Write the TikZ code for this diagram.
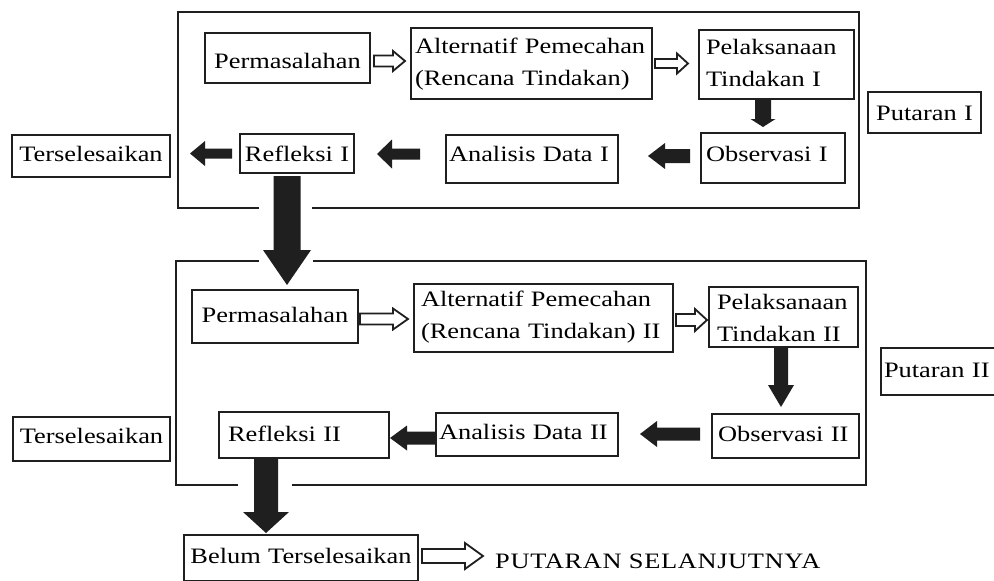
\documentclass[tikz,border=0pt]{standalone}
\usepackage{fontspec}
\setmainfont{Liberation Serif}[FakeStretch=1.2]
\usetikzlibrary{calc}
\definecolor{ink}{gray}{0.12}
\tikzset{
  box/.style={draw=ink, line width=2pt, anchor=north west, inner xsep=0pt, inner ysep=0pt,
              font=\fontsize{22}{32}\selectfont},
  frame/.style={draw=ink, line width=2pt},
  darr/.style={fill=ink},
  harr/.style={draw=ink, fill=white, line width=1.8pt, line join=miter},
}
% box: name, x, y, width, text width, text height, text depth, align, text
\newcommand\bx[9]{\node[box, minimum width=#4pt, text width=#5pt, text height=#6pt, text depth=#7pt, align=#8] (#1) at (#2,#3) {#9};}
% horizontal block arrow: style, from, to, shaft half, head half, head length
\newcommand\HArr[6]{\path[#1] let \p1=(#2), \p2=(#3), \n1={ifthenelse(\x2>\x1,1,-1)} in
  (\x1,{\y1+#4pt}) -- ({\x2-\n1*#6pt},{\y1+#4pt}) -- ({\x2-\n1*#6pt},{\y1+#5pt}) -- (\x2,\y1)
  -- ({\x2-\n1*#6pt},{\y1-#5pt}) -- ({\x2-\n1*#6pt},{\y1-#4pt}) -- (\x1,{\y1-#4pt}) -- cycle;}
% vertical (downward) block arrow
\newcommand\VArr[6]{\path[#1] let \p1=(#2), \p2=(#3) in
  ({\x1-#4pt},\y1) -- ({\x1-#4pt},{\y2+#6pt}) -- ({\x1-#5pt},{\y2+#6pt}) -- (\x1,\y2)
  -- ({\x1+#5pt},{\y2+#6pt}) -- ({\x1+#4pt},{\y2+#6pt}) -- ({\x1+#4pt},\y1) -- cycle;}
\begin{document}
\begin{tikzpicture}[x=1pt,y=-1pt]
\fill[white] (0,0) rectangle (994,581);
\useasboundingbox (0,0) rectangle (994,581);

% outer frames
\draw[frame] (259,208) -- (178,208) -- (178,12) -- (859,12) -- (859,208) -- (312,208);
\draw[frame] (259,261) -- (176,261) -- (176,485) -- (238,485);
\draw[frame] (292,485) -- (866,485) -- (866,261) -- (313,261);

% Putaran I
\bx{perm1}{204}{32}{165}{155}{35}{15}{center}{Permasalahan}
\bx{alt1}{410}{27}{241}{233}{25}{46}{left}{Alternatif Pemecahan\\(Rencana Tindakan)}
\bx{pel1}{698}{29}{155}{141}{24}{45}{left}{Pelaksanaan\\Tindakan I}
\bx{obs1}{700}{132}{144}{134}{28}{22}{left}{Observasi I}
\bx{put1}{867}{91}{113}{107}{28}{13}{center}{Putaran I}
\bx{ana1}{445}{134}{172}{166}{26}{22}{left}{Analisis Data I}
\bx{ref1}{239}{133}{114}{110}{27}{12}{center}{Refleksi I}
\bx{ter1}{11}{134}{158}{154}{26}{16}{center}{Terselesaikan}

% Putaran II
\bx{perm2}{191}{289}{166}{154}{32}{21}{center}{Permasalahan}
\bx{alt2}{413}{283}{259}{245}{22}{46}{left}{Alternatif Pemecahan\\(Rencana Tindakan) II}
\bx{pel2}{708}{286}{149}{133}{22}{38}{left}{Pelaksanaan\\Tindakan II}
\bx{obs2}{711}{413}{147}{135}{27}{17}{left}{Observasi II}
\bx{put2}{880}{347}{116}{110}{29}{18}{left}{Putaran II}
\bx{ana2}{435}{412}{182}{176}{26}{17}{left}{Analisis Data II}
\bx{ref2}{218}{411}{170}{152}{29}{17}{left}{Refleksi II}
\bx{ter2}{12}{416}{157}{153}{26}{18}{center}{Terselesaikan}
\bx{belum}{183}{534}{234}{230}{28}{18}{center}{Belum Terselesaikan}
\node[inner sep=0pt, anchor=base west, font=\fontsize{22}{32}\selectfont\addfontfeature{LetterSpace=3}]
  (next) at (495,568) {PUTARAN SELANJUTNYA};

% connectors, round I
\HArr{harr}{[xshift=3pt,yshift=-3pt]perm1.east}{[xshift=-5pt]alt1.west}{5.5}{10}{12}
\HArr{harr}{[xshift=2pt]alt1.east}{[xshift=-10pt]pel1.west}{4.5}{10}{11}
\VArr{darr}{[xshift=-13.5pt]pel1.south}{[yshift=5pt]obs1.north}{8}{12.5}{8}
\HArr{darr}{[xshift=-10pt,yshift=2pt]obs1.west}{[xshift=29pt]ana1.east}{7}{13}{17}
\HArr{darr}{[xshift=-25pt,yshift=5pt]ana1.west}{[xshift=22pt]ref1.east}{5.5}{14.5}{15}
\HArr{darr}{[xshift=-7pt]ref1.west}{[xshift=19pt]ter1.east}{5}{12.5}{15}
\VArr{darr}{[xshift=-10pt,yshift=-2pt]ref1.south}{[yshift=4pt]perm2.north}{13.5}{24}{35}

% connectors, round II
\HArr{harr}{[xshift=1pt,yshift=-2.5pt]perm2.east}{[xshift=-5pt]alt2.west}{5.5}{10.5}{15}
\HArr{harr}{[xshift=2pt,yshift=-2pt]alt2.east}{[xshift=-1pt]pel2.west}{6}{11}{12}
\VArr{darr}{[xshift=-2.5pt]pel2.south}{[yshift=6pt]obs2.north}{7}{13}{22}
\HArr{darr}{[xshift=-11pt,yshift=2pt]obs2.west}{[xshift=21pt]ana2.east}{6.5}{13}{17}
\HArr{darr}{[yshift=-3.5pt]ana2.west}{ref2.east}{6.5}{12.5}{17}
\VArr{darr}{[xshift=-38pt]ref2.south}{[yshift=1pt]belum.north}{12}{23}{21}
\HArr{harr}{[xshift=3pt,yshift=2pt]belum.east}{[xshift=-12pt]next.west}{7}{13}{18}
\end{tikzpicture}
\end{document}
